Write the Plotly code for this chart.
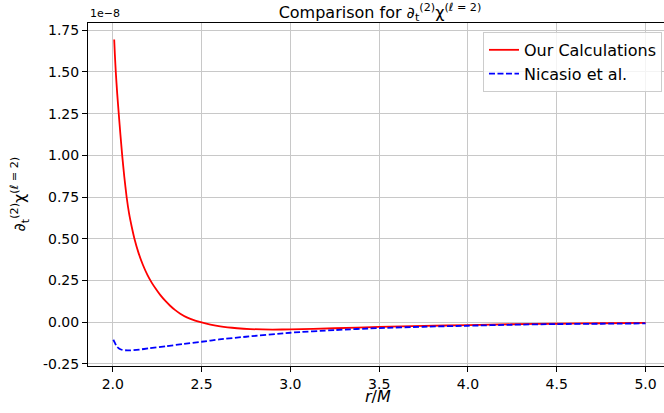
import plotly.graph_objects as go

# Values in units of 1e-8
r_ours = [2.008, 2.012, 2.017, 2.025, 2.034, 2.043, 2.053, 2.065, 2.078, 2.092, 2.107,
          2.122, 2.145, 2.17, 2.195, 2.22, 2.245, 2.267, 2.295, 2.323, 2.35, 2.38, 2.417,
          2.464, 2.50, 2.55, 2.605, 2.70, 2.774, 2.90, 3.00, 3.25, 3.50, 3.75, 4.00, 4.25,
          4.50, 4.75, 5.00]
v_ours = [1.695, 1.60, 1.50, 1.37, 1.245, 1.125, 1.00, 0.87, 0.75, 0.65, 0.57,
          0.50, 0.415, 0.342, 0.283, 0.235, 0.195, 0.163, 0.128, 0.098, 0.073, 0.050, 0.028,
          0.009, -0.002, -0.015, -0.026, -0.037, -0.042, -0.045, -0.044, -0.037, -0.029, -0.023, -0.018, -0.013,
          -0.010, -0.007, -0.005]

r_nic = [2.003, 2.012, 2.022, 2.035, 2.05, 2.07, 2.098, 2.15, 2.20, 2.30, 2.40, 2.50,
         2.60, 2.75, 3.00, 3.25, 3.50, 3.75, 4.00, 4.25, 4.50, 4.75, 5.00]
v_nic = [-0.106, -0.125, -0.146, -0.158, -0.166, -0.169, -0.170, -0.165, -0.158, -0.145,
         -0.131, -0.118, -0.104, -0.088, -0.064, -0.048, -0.036, -0.028, -0.022, -0.016,
         -0.012, -0.010, -0.008]

x_ticks = [2.0, 2.5, 3.0, 3.5, 4.0, 4.5, 5.0]
y_ticks = [-0.25, 0.00, 0.25, 0.50, 0.75, 1.00, 1.25, 1.50, 1.75]

FONT = "DejaVu Sans"
W, H = 664, 413

fig = go.Figure()
fig.add_trace(go.Scatter(x=r_ours, y=v_ours, mode="lines", name="Our Calculations",
                         line=dict(color="#ff0000", width=1.8, shape="spline", smoothing=0.6)))
fig.add_trace(go.Scatter(x=r_nic, y=v_nic, mode="lines", name="Nicasio et al.",
                         line=dict(color="#0000ff", width=1.8, dash="6px,2.5px",
                                   shape="spline", smoothing=0.6)))

axis_common = dict(showgrid=True, gridcolor="#c8c8c8", gridwidth=1, zeroline=False,
                   showline=True, linecolor="black", linewidth=1, ticks="outside",
                   ticklen=5, tickwidth=1, tickcolor="black", automargin=False,
                   tickfont=dict(family=FONT, size=14, color="black"))

fig.update_layout(
    width=W, height=H,
    margin=dict(l=88, r=0, t=23, b=47, autoexpand=False),
    paper_bgcolor="white", plot_bgcolor="white",
    font=dict(family=FONT, color="black"),
    title=dict(text="Comparison for ∂<sub>t</sub><sup>(2)</sup>χ<sup>(ℓ = 2)</sup>",
               x=380 / W, xanchor="center", xref="container",
               y=1 - 12 / H, yanchor="middle", yref="container",
               font=dict(family=FONT, size=16, color="black")),
    xaxis=dict(range=[1.8605, 5.104], tickvals=x_ticks,
               ticktext=[f"{t:.1f}" for t in x_ticks], mirror=True, **axis_common),
    yaxis=dict(range=[-0.2635, 1.7935], tickvals=y_ticks,
               ticktext=[f"{t:.2f}" for t in y_ticks], mirror=False, **axis_common),
    legend=dict(x=0.9965, y=0.974, xanchor="right", yanchor="top",
                bgcolor="rgba(255,255,255,0.8)", bordercolor="#cccccc", borderwidth=1,
                font=dict(family=FONT, size=16, color="black"), tracegroupgap=0),
    showlegend=True,
)

fig.add_annotation(text="1e−8", xref="paper", yref="paper", x=0, y=1.0,
                   xanchor="left", yanchor="bottom", showarrow=False,
                   font=dict(family=FONT, size=11, color="black"), yshift=1)
fig.add_annotation(text="<i>r</i>/<i>M</i>", xref="paper", yref="paper",
                   x=(378 - 88) / 576, y=0, yshift=-30, xanchor="center", yanchor="middle",
                   showarrow=False, font=dict(family=FONT, size=16, color="black"))
fig.add_annotation(text="∂<sub>t</sub><sup>(2)</sup>χ<sup>(ℓ = 2)</sup>", xref="paper", yref="paper",
                   x=0, xshift=-68, y=0.5, xanchor="center", yanchor="middle", textangle=-90,
                   showarrow=False, font=dict(family=FONT, size=16, color="black"))

fig.write_html("out.html", config={"displayModeBar": False},
               post_script="document.body.style.margin='0px';document.body.style.overflow='hidden';")
